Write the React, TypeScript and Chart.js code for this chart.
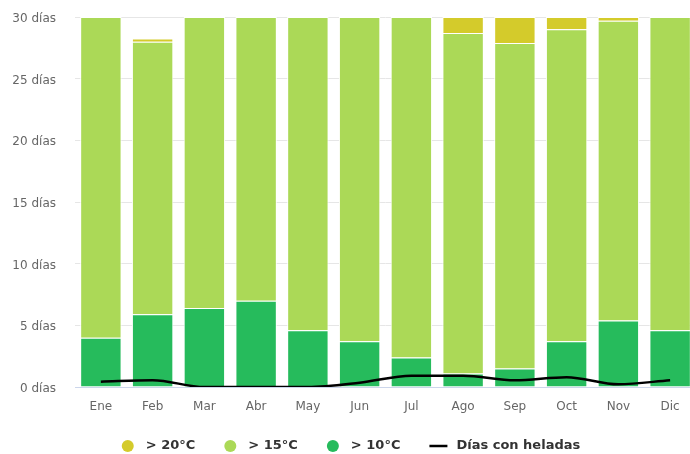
import React, { useEffect, useRef } from "react";
import { Chart, registerables } from "chart.js";

Chart.register(...registerables);

const months = ["Ene", "Feb", "Mar", "Abr", "May", "Jun", "Jul", "Ago", "Sep", "Oct", "Nov", "Dic"];
const over10 = [4.0, 5.9, 6.4, 7.0, 4.6, 3.7, 2.4, 1.1, 1.5, 3.7, 5.4, 4.6];
const over15 = [26.0, 22.1, 23.6, 23.0, 25.4, 26.3, 27.6, 27.6, 26.4, 25.3, 24.3, 25.4];
const over20 = [0, 0.25, 0, 0, 0, 0, 0, 1.3, 2.1, 1.0, 0.3, 0];
const frostDays = [0.43, 0.55, 0, 0, 0, 0.35, 0.92, 0.92, 0.55, 0.8, 0.22, 0.55];
const yTicks = [0, 5, 10, 15, 20, 25, 30];
const legendOrder = [2, 1, 0, 3];

const FONT = "'DejaVu Sans', sans-serif";

const customLegend = {
  id: "customLegend",
  afterDraw(chart: any) {
    const ctx: CanvasRenderingContext2D = chart.ctx;
    const ds = legendOrder.map((i) => chart.data.datasets[i]);
    ctx.save();
    ctx.font = `bold 13px ${FONT}`;
    ctx.textBaseline = "middle";
    ctx.textAlign = "left";
    const gap = 29;
    const widths = ds.map((d: any) => {
      const marker = d.type === "line" ? 27 : 24;
      return marker + ctx.measureText(d.label).width;
    });
    const total = widths.reduce((a: number, b: number) => a + b, 0) + gap * (ds.length - 1);
    let x = chart.width / 2 - total / 2 + 1;
    const y = chart.chartArea.bottom + 59;
    ds.forEach((d: any, i: number) => {
      if (d.type === "line") {
        ctx.strokeStyle = d.borderColor;
        ctx.lineWidth = 2.5;
        ctx.beginPath();
        ctx.moveTo(x, y);
        ctx.lineTo(x + 18, y);
        ctx.stroke();
        ctx.fillStyle = "#333333";
        ctx.fillText(d.label, x + 27, y);
      } else {
        ctx.fillStyle = d.backgroundColor;
        ctx.beginPath();
        ctx.arc(x + 6, y, 6, 0, Math.PI * 2);
        ctx.fill();
        ctx.fillStyle = "#333333";
        ctx.fillText(d.label, x + 24, y);
      }
      x += widths[i] + gap;
    });
    ctx.restore();
  },
};

export default function App() {
  const ref = useRef<HTMLCanvasElement>(null);
  useEffect(() => {
    document.body.style.margin = "0";
    const ctx = ref.current!;
    const chart = new Chart(ctx, {
      type: "bar",
      data: {
        labels: months,
        datasets: [
          {
            type: "bar",
            label: "> 10°C",
            data: over10,
            backgroundColor: "#26bb5c",
            borderColor: "#ffffff",
            borderWidth: 1,
            stack: "t",
            order: 1,
          } as any,
          {
            type: "bar",
            label: "> 15°C",
            data: over15,
            backgroundColor: "#abd957",
            borderColor: "#ffffff",
            borderWidth: 1,
            stack: "t",
            order: 1,
          },
          {
            type: "bar",
            label: "> 20°C",
            data: over20,
            backgroundColor: "#d4cb2b",
            borderColor: "#ffffff",
            borderWidth: 1,
            stack: "t",
            order: 1,
          },
          {
            type: "line",
            label: "Días con heladas",
            data: frostDays,
            borderColor: "#000000",
            backgroundColor: "#000000",
            borderWidth: 2.5,
            pointRadius: 0,
            cubicInterpolationMode: "monotone",
            stack: "f",
            order: 0,
          } as any,
        ],
      },
      options: {
        responsive: false,
        maintainAspectRatio: false,
        animation: false,
        devicePixelRatio: 1,
        layout: { padding: { top: 17, right: 4, left: 0, bottom: 30 } },
        datasets: {
          bar: { barPercentage: 0.8, categoryPercentage: 1 },
        },
        scales: {
          x: {
            stacked: true,
            afterFit: (scale: any) => {
              scale.height = 37;
            },
            grid: { display: false, drawTicks: false },
            border: { display: true, color: "#ccd6eb", width: 1 },
            ticks: { color: "#666666", font: { family: FONT, size: 12 }, padding: 13, maxRotation: 0 },
          },
          y: {
            stacked: true,
            min: 0,
            max: 30,
            afterFit: (scale: any) => {
              scale.width = 75;
              scale.paddingTop = 0;
              scale.paddingBottom = 0;
            },
            afterBuildTicks: (scale: any) => {
              scale.ticks = yTicks.map((v) => ({ value: v }));
            },
            grid: { color: "#e6e6e6", drawTicks: false },
            border: { display: false },
            ticks: {
              color: "#666666",
              font: { family: FONT, size: 12 },
              padding: 19,
              labelOffset: 2,
              callback: (v: any) => `${v} días`,
            },
          },
        },
        plugins: {
          tooltip: { enabled: false },
          legend: { display: false },
        },
      },
      plugins: [customLegend],
    });
    return () => chart.destroy();
  }, []);
  return (
    <div style={{ position: "absolute", left: 0, top: 0, width: 690, height: 454, overflow: "hidden" }}>
      <canvas ref={ref} width={700} height={454} style={{ width: 700, height: 454, display: "block" }} />
    </div>
  );
}
